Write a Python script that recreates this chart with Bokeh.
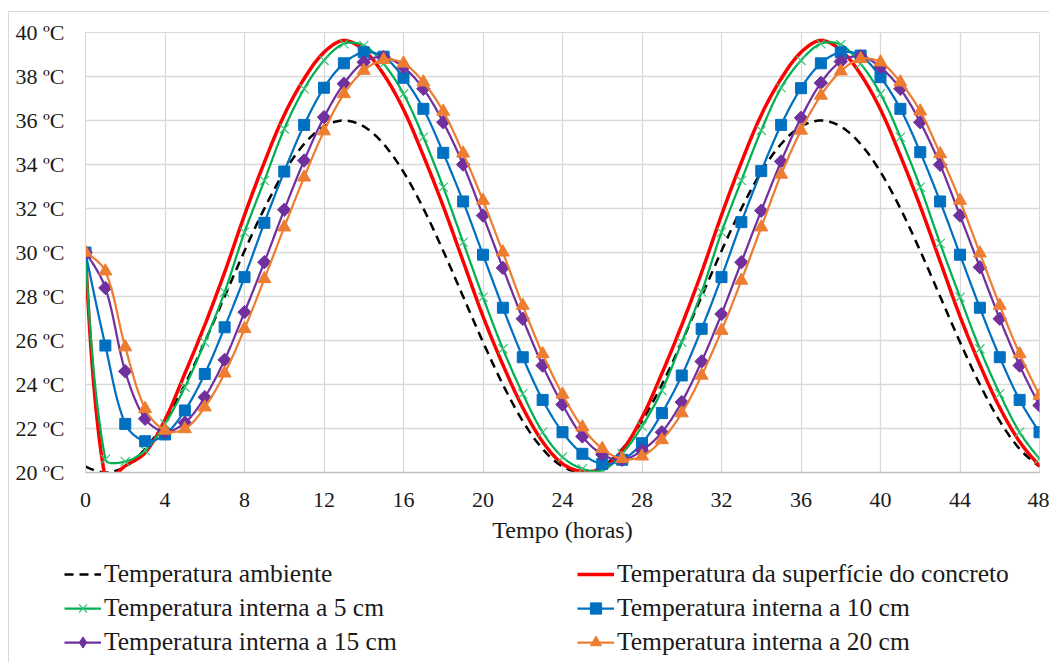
import numpy as np
from bokeh.plotting import figure
from bokeh.layouts import column
from bokeh.models import Range1d, FixedTicker, PrintfTickFormatter, Legend
from bokeh.embed import file_html
from bokeh.resources import INLINE

# ---------------- data ----------------
hours = list(range(49))

ambiente = [20.27, 20.00, 20.27, 21.07, 22.34, 24.00, 25.93, 28.00, 30.07, 32.00,
            33.66, 34.93, 35.73, 36.00, 35.73, 34.93, 33.66, 32.00, 30.07, 28.00,
            25.93, 24.00, 22.34, 21.07, 20.27, 20.00, 20.27, 21.07, 22.34, 24.00,
            25.93, 28.00, 30.07, 32.00, 33.66, 34.93, 35.73, 36.00, 35.73, 34.93,
            33.66, 32.00, 30.07, 28.00, 25.93, 24.00, 22.34, 21.07, 20.27]

superficie = [30.00, 19.70, 20.30, 20.90, 22.40, 24.50, 26.70, 29.10, 31.70, 34.10,
              36.25, 37.90, 39.10, 39.64, 39.20, 38.10, 36.50, 34.40, 32.10, 29.60,
              27.10, 24.90, 22.95, 21.40, 20.40, 20.05, 20.20, 21.00, 22.50, 24.50,
              26.70, 29.10, 31.70, 34.10, 36.25, 37.90, 39.10, 39.64, 39.20, 38.10,
              36.50, 34.40, 32.10, 29.60, 27.10, 24.90, 22.95, 21.40, 20.30]

interna_5 = [30.00, 20.60, 20.50, 21.00, 22.21, 23.88, 25.92, 28.20, 30.92, 33.27,
             35.62, 37.44, 38.73, 39.49, 39.41, 38.58, 37.21, 35.24, 32.97, 30.47,
             27.97, 25.62, 23.58, 21.83, 20.70, 20.17, 20.09, 20.85, 22.10, 23.73,
             25.92, 28.20, 30.92, 33.27, 35.55, 37.49, 38.73, 39.49, 39.45, 38.58,
             37.21, 35.24, 32.97, 30.41, 27.97, 25.62, 23.58, 21.83, 20.62]

interna_10 = [30.00, 25.77, 22.21, 21.42, 21.73, 22.82, 24.48, 26.60, 28.88, 31.35,
              33.68, 35.80, 37.49, 38.60, 39.10, 38.90, 37.94, 36.53, 34.53, 32.32,
              29.90, 27.49, 25.24, 23.30, 21.83, 20.85, 20.39, 20.58, 21.33, 22.70,
              24.41, 26.53, 28.88, 31.38, 33.70, 35.80, 37.47, 38.60, 39.10, 38.95,
              37.97, 36.53, 34.56, 32.32, 29.90, 27.49, 25.24, 23.30, 21.83]

interna_15 = [30.00, 28.39, 24.60, 22.44, 21.86, 22.26, 23.42, 25.12, 27.29, 29.56,
              31.94, 34.18, 36.15, 37.67, 38.65, 38.88, 38.42, 37.44, 35.92, 34.00,
              31.68, 29.30, 26.99, 24.86, 23.09, 21.64, 20.82, 20.58, 21.00, 21.83,
              23.20, 25.05, 27.20, 29.56, 31.90, 34.14, 36.12, 37.71, 38.68, 38.92,
              38.42, 37.44, 35.92, 33.99, 31.68, 29.33, 26.99, 24.86, 23.05]

interna_20 = [30.00, 29.15, 25.70, 22.90, 21.91, 21.98, 22.97, 24.51, 26.53, 28.80,
              31.15, 33.42, 35.52, 37.21, 38.27, 38.76, 38.60, 37.74, 36.41, 34.51,
              32.36, 30.01, 27.59, 25.39, 23.55, 22.06, 21.08, 20.62, 20.74, 21.48,
              22.70, 24.41, 26.45, 28.73, 31.15, 33.55, 35.55, 37.14, 38.24, 38.80,
              38.65, 37.74, 36.42, 34.48, 32.36, 29.97, 27.59, 25.39, 23.50]

x_ticks = [0, 4, 8, 12, 16, 20, 24, 28, 32, 36, 40, 44, 48]
y_ticks = [20, 22, 24, 26, 28, 30, 32, 34, 36, 38, 40]

series_names = ["Temperatura ambiente",
                "Temperatura da superfície do concreto",
                "Temperatura interna a 5 cm",
                "Temperatura interna a 10 cm",
                "Temperatura interna a 15 cm",
                "Temperatura interna a 20 cm"]

# ---------------- smoothed line rendering (spreadsheet-like "smoothed line") ----------------
PX_X = 954.0 / 48.0
PX_Y = 440.0 / 20.0


def smooth(xs, ys, steps=16):
    P = np.column_stack([np.asarray(xs, float) * PX_X, np.asarray(ys, float) * PX_Y])
    n = len(P)
    cb = np.zeros_like(P)
    ca = np.zeros_like(P)
    for k in range(1, n - 1):
        T = P[k + 1] - P[k - 1]
        d1 = np.linalg.norm(P[k] - P[k - 1])
        d2 = np.linalg.norm(P[k + 1] - P[k])
        s = d1 + d2
        cb[k] = P[k] - T * (1.0 / 3.0) * d1 / s
        ca[k] = P[k] + T * (1.0 / 3.0) * d2 / s
    ca[0] = P[0] + (cb[1] - P[0]) / 3.0
    cb[n - 1] = P[n - 1] + (ca[n - 2] - P[n - 1]) / 3.0
    out = []
    ss = np.linspace(0, 1, steps, endpoint=False)[:, None]
    for k in range(n - 1):
        b = ((1 - ss) ** 3) * P[k] + 3 * ((1 - ss) ** 2) * ss * ca[k] \
            + 3 * (1 - ss) * ss ** 2 * cb[k + 1] + ss ** 3 * P[k + 1]
        out.append(b)
    out.append(P[-1:])
    B = np.vstack(out)
    return list(B[:, 0] / PX_X), list(B[:, 1] / PX_Y)


# ---------------- styles ----------------
FONT = "Liberation Serif"
colors = {"amb": "#000000", "sup": "#ff0000", "c5": "#00b050",
          "c10": "#0070c0", "c15": "#7030a0", "c20": "#ed7d31"}
line_kw = {
    "amb": dict(line_color=colors["amb"], line_width=2.5, line_dash="9 6"),
    "sup": dict(line_color=colors["sup"], line_width=3.5),
    "c5": dict(line_color=colors["c5"], line_width=2.25),
    "c10": dict(line_color=colors["c10"], line_width=2.25),
    "c15": dict(line_color=colors["c15"], line_width=2.25),
    "c20": dict(line_color=colors["c20"], line_width=2.25),
}
marker_kw = {
    "c5": dict(marker="x", size=13, line_color="#3cc47a", line_width=1.2),
    "c10": dict(marker="square", size=11, fill_color=colors["c10"], line_color=colors["c10"], line_width=1),
    "c15": dict(marker="square", angle=0.785398, size=9.5, fill_color=colors["c15"],
                line_color=colors["c15"], line_width=1),
    "c20": dict(marker="triangle", size=13, fill_color=colors["c20"], line_color=colors["c20"], line_width=1),
}
legend_marker_kw = dict(marker_kw)
legend_marker_kw["c15"] = dict(marker="diamond", size=16, fill_color=colors["c15"],
                               line_color=colors["c15"], line_width=1)

# ---------------- main figure ----------------
p = figure(width=1040, height=540, output_backend="svg", toolbar_location=None,
           x_range=Range1d(0, 48), y_range=Range1d(20, 40),
           min_border_left=76, min_border_right=10, min_border_top=20, min_border_bottom=80)
p.frame_align = False

p.background_fill_color = "white"
p.border_fill_color = "white"
p.outline_line_color = "#d9d9d9"
p.outline_line_width = 1

p.xaxis.ticker = FixedTicker(ticks=x_ticks)
p.yaxis.ticker = FixedTicker(ticks=y_ticks)
p.yaxis.formatter = PrintfTickFormatter(format="%d ºC")
p.xgrid.ticker = FixedTicker(ticks=x_ticks)
p.ygrid.ticker = FixedTicker(ticks=y_ticks)
p.grid.grid_line_color = "#d9d9d9"
p.grid.grid_line_width = 1.3

for ax in (p.xaxis[0], p.yaxis[0]):
    ax.major_tick_line_color = None
    ax.minor_tick_line_color = None
    ax.major_tick_out = 0
    ax.major_tick_in = 0
    ax.major_label_text_font = FONT
    ax.major_label_text_font_size = "22px"
    ax.major_label_text_color = "#1a1a1a"
p.xaxis.axis_line_color = "#bfbfbf"
p.xaxis.axis_line_width = 1.3
p.yaxis.axis_line_color = "#d9d9d9"
p.yaxis.major_label_standoff = 21
p.xaxis.major_label_standoff = 20
p.xaxis.axis_label = "Tempo (horas)"
p.xaxis.axis_label_text_font = FONT
p.xaxis.axis_label_text_font_size = "24px"
p.xaxis.axis_label_text_font_style = "normal"
p.xaxis.axis_label_text_color = "#1a1a1a"
p.xaxis.axis_label_standoff = 7

sx, sy = smooth(hours, ambiente)
p.line(sx, sy, **line_kw["amb"])
sx, sy = smooth(hours, superficie)
p.line(sx, sy, **line_kw["sup"])
for key, vals in (("c5", interna_5), ("c10", interna_10), ("c15", interna_15), ("c20", interna_20)):
    sx, sy = smooth(hours, vals)
    p.line(sx, sy, **line_kw[key])
    p.scatter(hours, vals, **marker_kw[key])

# ---------------- legend strip ----------------
q = figure(width=1040, height=110, output_backend="svg", toolbar_location=None,
           x_range=Range1d(0, 1), y_range=Range1d(0, 1),
           x_axis_location=None, y_axis_location=None,
           min_border=0, min_border_left=0, min_border_right=0,
           min_border_top=0, min_border_bottom=0)
q.frame_align = False
q.grid.visible = False
q.outline_line_color = None
q.background_fill_color = "white"
q.border_fill_color = "white"


def proxy(key):
    # off-range proxies: only their styles are shown, as legend glyphs
    rs = [q.line([-5, -4], [-5, -5], **line_kw[key])]
    if key in legend_marker_kw:
        rs.append(q.scatter([-5], [-5], **legend_marker_kw[key]))
    return rs


legend = Legend(items=[(series_names[0], proxy("amb")),
                       (series_names[2], proxy("c5")),
                       (series_names[4], proxy("c15")),
                       (series_names[1], proxy("sup")),
                       (series_names[3], proxy("c10")),
                       (series_names[5], proxy("c20"))],
                location=(55, 5), orientation="vertical", nrows=3)
legend.border_line_color = None
legend.background_fill_alpha = 0
legend.padding = 0
legend.margin = 0
legend.glyph_width = 37
legend.glyph_height = 28
legend.label_height = 28
legend.label_standoff = 3
legend.spacing = 4
legend.label_width = 469
legend.label_text_font = FONT
legend.label_text_font_size = "25.5px"
legend.label_text_color = "#1a1a1a"
legend.label_text_baseline = "middle"
q.add_layout(legend, "center")

layout = column(p, q, spacing=0)
layout.styles = {"margin-left": "8px", "margin-top": "11px",
                 "border-top": "1px solid #d9d9d9", "border-left": "1px solid #d9d9d9"}

open("out.html", "w").write(file_html(layout, INLINE))
